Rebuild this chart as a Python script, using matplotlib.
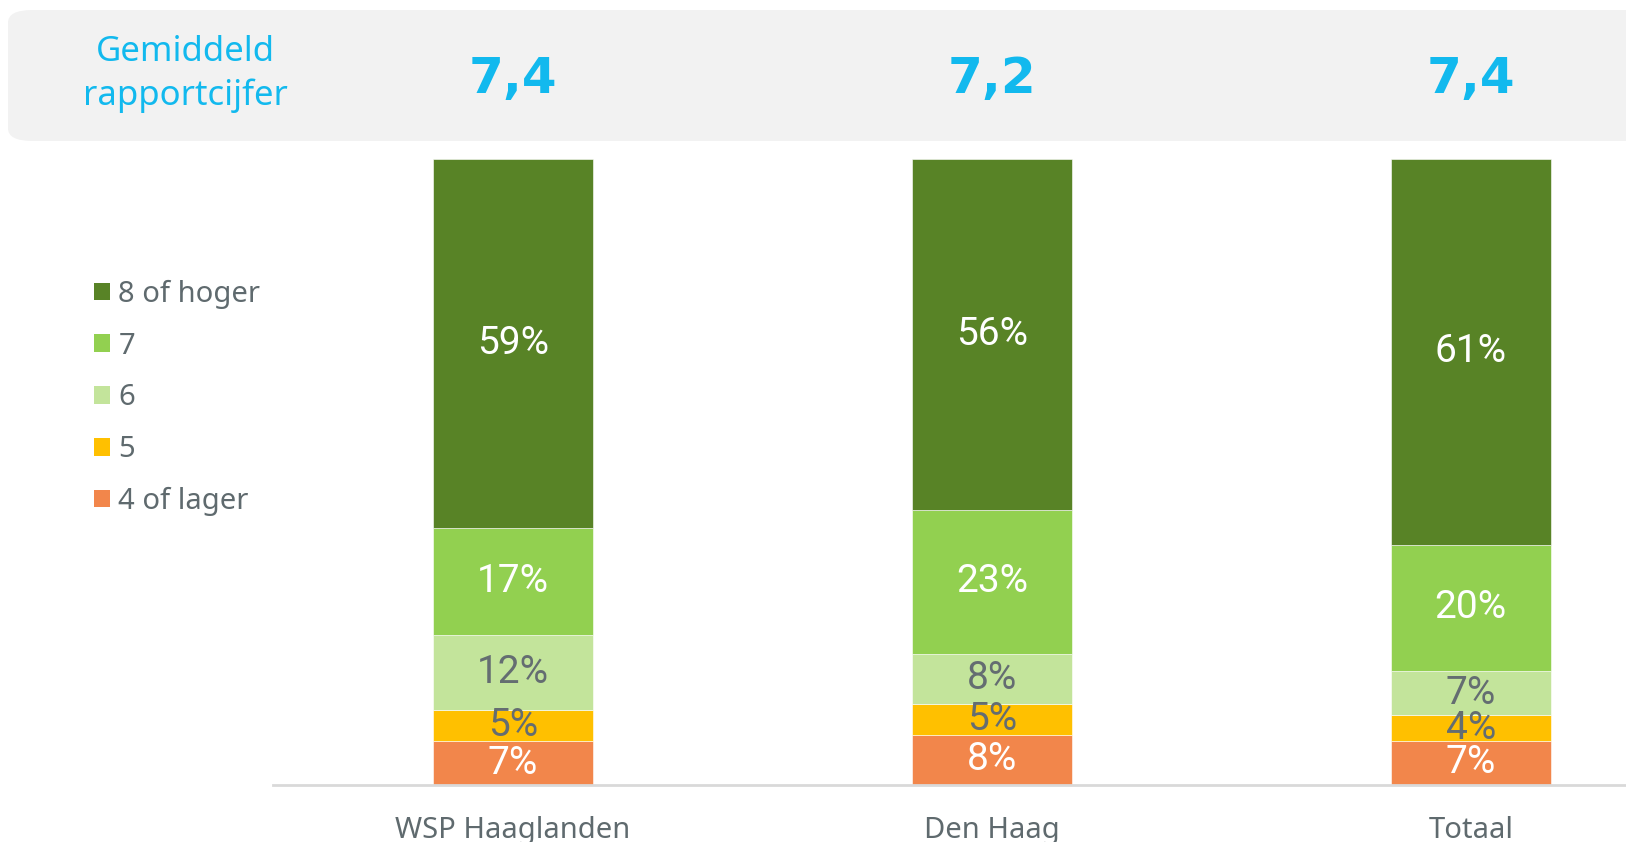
import numpy as np
import matplotlib.pyplot as plt
from matplotlib import font_manager
from matplotlib.patches import Patch, FancyBboxPatch
from matplotlib.transforms import blended_transform_factory

# data
categories = ["WSP Haaglanden", "Den Haag", "Totaal"]
series = ["4 of lager", "5", "6", "7", "8 of hoger"]
lager = [7, 8, 7]
vijf = [5, 5, 4]
zes = [12, 8, 7]
zeven = [17, 23, 20]
hoger = [59, 56, 61]
gemiddeld = ["7,4", "7,2", "7,4"]

colors = ["#F2864B", "#FFC000", "#C3E49B", "#92D050", "#588326"]
text_colors = ["white", "#646D71", "#646D71", "white", "white"]
grey = "#5F6A6E"
blue = "#12B9EE"

names = {f.name for f in font_manager.fontManager.ttflist}
narrow = "Liberation Sans Narrow" if "Liberation Sans Narrow" in names else "Roboto"
plt.rcParams["font.family"] = ["Noto Sans", "DejaVu Sans"]

W, H = 1626, 842
fig = plt.figure(figsize=(W / 100, H / 100), dpi=100)

# grey header band with rounded corners (behind everything)
band = FancyBboxPatch((8 / W, 1 - 141 / H), 1.2, 131 / H,
                      boxstyle="round,pad=0,rounding_size=0.015",
                      transform=fig.transFigure, facecolor="#F2F2F2",
                      edgecolor="none", zorder=-1)
fig.patches.append(band)
fig.text(185 / W, 1 - 74 / H, "Gemiddeld\nrapportcijfer", ha="center", va="center",
         fontsize=25, color=blue, linespacing=1.32)

ax = fig.add_axes([273 / W, 1 - 785 / H, 1 - 273 / W, (785 - 159) / H])
x = np.arange(len(categories))
data = np.array([lager, vijf, zes, zeven, hoger], dtype=float)
frac = data / data.sum(axis=0)

bottom = np.zeros(len(categories))
handles = []
for i, name in enumerate(series):
    bars = ax.bar(x, frac[i], 0.333, bottom=bottom, color=colors[i],
                  edgecolor="white", linewidth=0.4)
    ax.bar_label(bars, labels=[f"{int(v)}%" for v in data[i]], label_type="center",
                 fontsize=28, color=text_colors[i], family=narrow)
    bottom += frac[i]
    handles.append(Patch(facecolor=colors[i], label=name))

ax.set_xlim(-0.501, 2.324)
ax.set_ylim(0, 1)
ax.set_xticks(x)
ax.set_xticklabels(categories, fontsize=21, color=grey)
ax.tick_params(axis="x", length=0, pad=22)
ax.set_yticks([])
for s in ["top", "right", "left"]:
    ax.spines[s].set_visible(False)
ax.spines["bottom"].set_color("#D9D9D9")
ax.spines["bottom"].set_linewidth(2)

# average grade above each bar
trans = blended_transform_factory(ax.transData, fig.transFigure)
for xi, g in zip(x, gemiddeld):
    ax.text(xi, 1 - 79 / H, g, transform=trans, ha="center", va="center",
            fontsize=36, fontweight="bold", color=blue, family="DejaVu Sans")

leg = fig.legend(handles=handles[::-1], loc="upper left",
                 bbox_to_anchor=(82 / W, 1 - 268 / H), frameon=False,
                 fontsize=21, labelcolor=grey, handlelength=0.55, handleheight=0.55,
                 handletextpad=0.3, labelspacing=0.78, borderaxespad=0)

fig.savefig("out.png", dpi=100)
